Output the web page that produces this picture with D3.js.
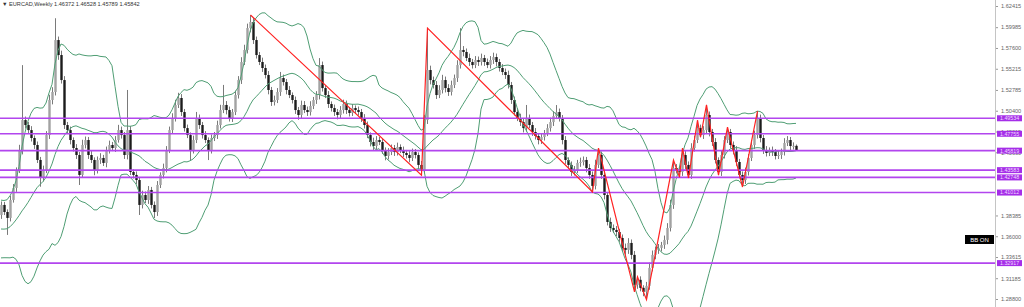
<!DOCTYPE html>
<html>
<head>
<meta charset="utf-8">
<script src="https://cdn.jsdelivr.net/npm/d3@7"></script>
<style>
  body { margin: 0; background: #fff; }
  svg { display: block; font-family: "Liberation Sans", Arial, sans-serif; }
</style>
</head>
<body>
<svg id="chart" width="1024" height="307"></svg>
<script>
// weekly closes before the visible window (only feed the bands)
var leadClose = [1.3901, 1.3729, 1.3557, 1.3443, 1.3500, 1.3615, 1.3844, 1.3959, 1.3787, 1.3580,
  1.3466, 1.3420, 1.3534, 1.3672, 1.3810, 1.3729, 1.3615, 1.3695, 1.3844];

// visible weekly closes, oldest first (open = previous close)
var closes = [
  1.3959, 1.3878, 1.3810, 1.4016, 1.4154, 1.4360, 1.4589, 1.4933, 1.4876, 1.4818,
  1.4727, 1.4647, 1.4475, 1.4268, 1.4360, 1.4761, 1.5163, 1.5255, 1.5851, 1.5679,
  1.5392, 1.4876, 1.4818, 1.4704, 1.4612, 1.4532, 1.4303, 1.4647, 1.4704, 1.4532,
  1.4475, 1.4360, 1.4475, 1.4498, 1.4441, 1.4589, 1.4647, 1.4612, 1.4704, 1.4818,
  1.4761, 1.4532, 1.4818, 1.4337, 1.4303, 1.4245, 1.3959, 1.4073, 1.4016, 1.4131,
  1.3959, 1.3878, 1.4188, 1.4303, 1.4383, 1.4589, 1.4818, 1.4956, 1.5106, 1.5186,
  1.5025, 1.4841, 1.4761, 1.4589, 1.4704, 1.4956, 1.4876, 1.4761, 1.4704, 1.4589,
  1.4727, 1.4761, 1.4876, 1.5048, 1.5106, 1.5048, 1.4956, 1.5025, 1.5220, 1.5392,
  1.5599, 1.5737, 1.5989, 1.6058, 1.5851, 1.5679, 1.5599, 1.5530, 1.5450, 1.5278,
  1.5140, 1.5163, 1.5255, 1.5415, 1.5369, 1.5278, 1.5220, 1.5163, 1.5048, 1.4991,
  1.5106, 1.5048, 1.5025, 1.5094, 1.5163, 1.5220, 1.5564, 1.5300, 1.5220, 1.5117,
  1.5071, 1.5025, 1.4991, 1.5048, 1.5117, 1.5048, 1.5014, 1.5071, 1.5048, 1.5025,
  1.4956, 1.4876, 1.4761, 1.4681, 1.4635, 1.4704, 1.4681, 1.4589, 1.4521, 1.4566,
  1.4612, 1.4566, 1.4624, 1.4589, 1.4555, 1.4532, 1.4498, 1.4566, 1.4532, 1.4418,
  1.4360, 1.4933, 1.5507, 1.5392, 1.5335, 1.5220, 1.5278, 1.5392, 1.5300, 1.5255,
  1.5335, 1.5415, 1.5564, 1.5737, 1.5714, 1.5645, 1.5599, 1.5564, 1.5622, 1.5599,
  1.5645, 1.5599, 1.5564, 1.5622, 1.5656, 1.5599, 1.5530, 1.5484, 1.5450, 1.5335,
  1.5163, 1.5025, 1.4956, 1.4910, 1.4841, 1.4956, 1.4876, 1.4796, 1.4750, 1.4704,
  1.4738, 1.4784, 1.4841, 1.4910, 1.4979, 1.5025, 1.4956, 1.4704, 1.4475, 1.4418,
  1.4337, 1.4360, 1.4441, 1.4452, 1.4475, 1.4383, 1.4303, 1.4177, 1.4418, 1.4532,
  1.4303, 1.4073, 1.3764, 1.3695, 1.3672, 1.3649, 1.3580, 1.3466, 1.3443, 1.3523,
  1.3386, 1.3042, 1.3100, 1.3008, 1.2962, 1.3031, 1.3237, 1.3386, 1.3443, 1.3466,
  1.3500, 1.3558, 1.3695, 1.3959, 1.4383, 1.4360, 1.4337, 1.4532, 1.4418, 1.4303,
  1.4612, 1.4704, 1.4841, 1.4761, 1.4818, 1.4991, 1.4796, 1.4681, 1.4475, 1.4337,
  1.4532, 1.4704, 1.4796, 1.4647, 1.4589, 1.4452, 1.4303, 1.4245, 1.4337, 1.4498,
  1.4647, 1.4761, 1.4956, 1.4727, 1.4589, 1.4555, 1.4589, 1.4566, 1.4521, 1.4532,
  1.4566, 1.4670, 1.4704, 1.4635, 1.46372, 1.45842];

// upper / lower shadow length of each week, in pips
var wickUp = [
  40, 35, 30, 50, 45, 30, 60, 630, 40, 35,
  45, 30, 40, 35, 50, 45, 60, 55, 250, 40,
  50, 45, 35, 40, 30, 45, 35, 60, 40, 35,
  45, 30, 40, 55, 35, 40, 50, 35, 45, 60,
  40, 35, 460, 45, 30, 40, 35, 50, 40, 45,
  35, 40, 45, 30, 50, 45, 40, 55, 60, 60,
  45, 35, 40, 30, 50, 70, 40, 35, 45, 30,
  40, 35, 50, 60, 230, 45, 40, 35, 50, 45,
  55, 60, 50, 80, 45, 40, 35, 50, 40, 45,
  35, 50, 45, 70, 40, 35, 45, 30, 40, 35,
  50, 45, 40, 55, 35, 45, 80, 40, 35, 45,
  30, 40, 35, 45, 50, 40, 35, 45, 30, 40,
  35, 45, 40, 30, 50, 45, 35, 40, 30, 45,
  40, 35, 50, 30, 40, 35, 45, 40, 35, 30,
  45, 60, 480, 50, 40, 45, 55, 60, 40, 45,
  50, 40, 55, 250, 45, 40, 50, 35, 45, 40,
  50, 35, 40, 45, 50, 40, 35, 45, 40, 50,
  35, 40, 45, 50, 35, 150, 40, 35, 45, 30,
  40, 35, 45, 50, 55, 80, 40, 35, 45, 30,
  40, 45, 35, 50, 40, 35, 45, 40, 60, 80,
  40, 45, 35, 50, 40, 45, 35, 40, 50, 55,
  40, 45, 35, 40, 30, 45, 60, 50, 40, 45,
  35, 50, 55, 60, 90, 45, 40, 80, 45, 40,
  55, 50, 90, 40, 45, 115, 40, 35, 45, 30,
  50, 45, 55, 35, 40, 45, 35, 40, 50, 45,
  55, 50, 80, 40, 35, 45, 30, 40, 35, 45,
  40, 55, 45, 35, 40, 15.6];

var wickDn = [
  45, 35, 195, 40, 30, 45, 35, 50, 40, 35,
  40, 45, 35, 100, 40, 35, 45, 50, 40, 55,
  40, 45, 35, 50, 40, 45, 115, 35, 40, 45,
  35, 60, 40, 45, 35, 50, 40, 35, 45, 30,
  40, 45, 50, 35, 40, 45, 115, 40, 35, 45,
  40, 70, 45, 35, 40, 50, 35, 45, 40, 35,
  45, 40, 35, 115, 40, 35, 45, 40, 35, 115,
  40, 35, 45, 40, 35, 50, 40, 45, 35, 40,
  45, 35, 40, 50, 45, 40, 35, 45, 40, 50,
  45, 40, 35, 45, 40, 50, 35, 40, 45, 55,
  40, 35, 45, 40, 35, 45, 50, 40, 35, 45,
  40, 45, 50, 35, 40, 45, 40, 35, 45, 40,
  45, 40, 35, 50, 45, 40, 35, 45, 50, 40,
  35, 45, 40, 35, 45, 40, 50, 35, 40, 45,
  60, 40, 45, 50, 40, 45, 35, 40, 50, 45,
  40, 35, 45, 40, 50, 35, 45, 40, 35, 45,
  40, 45, 35, 40, 45, 50, 40, 35, 45, 40,
  45, 40, 35, 45, 50, 40, 35, 45, 40, 50,
  45, 40, 35, 40, 45, 35, 40, 50, 45, 40,
  45, 40, 35, 45, 40, 50, 45, 70, 40, 35,
  45, 50, 40, 45, 35, 50, 45, 40, 55, 45,
  50, 80, 45, 40, 50, 90, 45, 40, 50, 45,
  40, 45, 50, 40, 45, 40, 60, 45, 50, 35,
  45, 40, 35, 25, 45, 40, 50, 45, 40, 35,
  45, 40, 35, 35, 50, 45, 40, 80, 45, 40,
  35, 45, 40, 50, 45, 40, 35, 45, 40, 35,
  45, 40, 35, 50, 40, 5.3];

// zigzag turning points: week index and which extreme it touches
var zigBars = [83, 140, 142, 197, 199, 211, 212, 215, 224, 226, 227, 229, 232, 233, 235, 239, 242, 247, 252];
var zigSide = ["h", "l", "h", "l", "h", "l", "h", "l", "h", "l", "h", "l", "h", "l", "h", "l", "h", "l", "h"];

// horizontal levels
var levels = [1.49534, 1.47755, 1.45819, 1.43583, 1.42748, 1.41012, 1.32917];

// price scale ticks (the ones not buried under a level label)
var tickVals = [1.62415, 1.59985, 1.57600, 1.55215, 1.52785, 1.50400, 1.48015, 1.45630,
  1.38385, 1.36000, 1.33615, 1.31185, 1.28800];

var bbPeriod = 20, bbDev = 2;

// ---------------------------------------------------------------
var width = 1024, height = 307, axisX = 995;
var svg = d3.select("#chart");

var x = d3.scaleLinear().domain([0, closes.length - 1]).range([1, 796]);
var y = d3.scaleLinear().domain([1.28800, 1.62415]).range([299, 6]);

svg.append("rect").attr("width", width).attr("height", height).attr("fill", "#fff");

svg.append("defs").append("clipPath").attr("id", "plot")
  .append("rect").attr("x", 0).attr("y", 0).attr("width", axisX).attr("height", height);

var plot = svg.append("g").attr("clip-path", "url(#plot)");

// build candles
var bars = closes.map(function (c, i) {
  var o = i ? closes[i - 1] : leadClose[leadClose.length - 1];
  return {
    i: i, o: o, c: c,
    h: Math.max(o, c) + wickUp[i] / 10000,
    l: Math.min(o, c) - wickDn[i] / 10000
  };
});

// bollinger bands on close
var all = leadClose.concat(closes);
var bands = closes.map(function (c, i) {
  var end = i + leadClose.length + 1;
  var win = all.slice(end - bbPeriod, end);
  var m = d3.mean(win);
  var sd = Math.sqrt(d3.mean(win, function (v) { return (v - m) * (v - m); }));
  return { i: i, m: m, up: m + bbDev * sd, dn: m - bbDev * sd };
});

var cg = plot.append("g");
cg.selectAll("line.wick")
  .data(bars)
  .enter()
  .append("line")
  .attr("class", "wick")
  .attr("x1", function (d) { return Math.round(x(d.i)) + 0.5; })
  .attr("x2", function (d) { return Math.round(x(d.i)) + 0.5; })
  .attr("y1", function (d) { return y(d.h); })
  .attr("y2", function (d) { return y(d.l); })
  .attr("stroke", "#7a7a7a")
  .attr("stroke-width", 1);

cg.selectAll("rect.body")
  .data(bars)
  .enter()
  .append("rect")
  .attr("class", "body")
  .attr("x", function (d) { return Math.round(x(d.i)) - 0.7; })
  .attr("width", 2.4)
  .attr("y", function (d) { return y(Math.max(d.o, d.c)); })
  .attr("height", function (d) { return Math.max(1, Math.abs(y(d.o) - y(d.c))); })
  .attr("fill", function (d) { return d.c >= d.o ? "#a2a2a2" : "#1c1c1c"; });

// bands
["up", "m", "dn"].forEach(function (k) {
  plot.append("path")
    .datum(bands)
    .attr("fill", "none")
    .attr("stroke", "#4f9e74")
    .attr("stroke-width", 1)
    .attr("d", d3.line()
      .x(function (d) { return x(d.i); })
      .y(function (d) { return y(d[k]); }));
});

// horizontal levels
plot.selectAll("line.level")
  .data(levels)
  .enter()
  .append("line")
  .attr("class", "level")
  .attr("x1", 0).attr("x2", axisX)
  .attr("y1", function (d) { return y(d); })
  .attr("y2", function (d) { return y(d); })
  .attr("stroke", "#b245ee")
  .attr("stroke-width", 1.6);

// zigzag
var zig = zigBars.map(function (b, k) {
  return { i: b, p: zigSide[k] === "h" ? bars[b].h : bars[b].l };
});
plot.append("path")
  .datum(zig)
  .attr("fill", "none")
  .attr("stroke", "#f22")
  .attr("stroke-width", 1.2)
  .attr("d", d3.line()
    .x(function (d) { return Math.round(x(d.i)) + 0.5; })
    .y(function (d) { return y(d.p); }));

// price axis
svg.append("line")
  .attr("x1", axisX + 0.5).attr("x2", axisX + 0.5)
  .attr("y1", 0).attr("y2", height)
  .attr("stroke", "#c4c4c4");

var ax = svg.append("g")
  .attr("transform", "translate(" + (axisX + 1) + ",0)")
  .call(d3.axisRight(y).tickValues(tickVals).tickSize(2).tickPadding(3)
    .tickFormat(d3.format(".5f")));
ax.select(".domain").remove();
ax.selectAll(".tick line").attr("stroke", "#999");
ax.selectAll(".tick text")
  .attr("fill", "#666")
  .style("font-size", "5.6px")
  .style("font-family", "Liberation Sans, Arial, sans-serif");

// level labels on the axis
var lab = svg.selectAll("g.lvl")
  .data(levels)
  .enter()
  .append("g")
  .attr("class", "lvl")
  .attr("transform", function (d) { return "translate(" + (axisX + 2) + "," + y(d) + ")"; });
lab.append("rect")
  .attr("x", 0).attr("y", -3).attr("width", 25).attr("height", 6)
  .attr("fill", "#a52ee8");
lab.append("text")
  .attr("x", 3).attr("y", 1.9)
  .attr("fill", "#f0dcff")
  .style("font-size", "5.3px")
  .text(function (d) { return d3.format(".5f")(d); });

// header
var last = bars[bars.length - 1];
var f5 = d3.format(".5f");
svg.append("text")
  .attr("x", 2).attr("y", 6)
  .attr("fill", "#333")
  .style("font-size", "5.6px")
  .text("\u25BC EURCAD,Weekly  " + f5(last.o) + " " + f5(last.h) + " " + f5(last.l) + " " + f5(last.c));

// BB ON badge
svg.append("rect").attr("x", 965).attr("y", 235).attr("width", 29).attr("height", 9).attr("fill", "#000");
svg.append("text")
  .attr("x", 979.5).attr("y", 241.8)
  .attr("text-anchor", "middle")
  .attr("fill", "#fff")
  .style("font-size", "6px")
  .text("BB ON");
</script>
</body>
</html>
